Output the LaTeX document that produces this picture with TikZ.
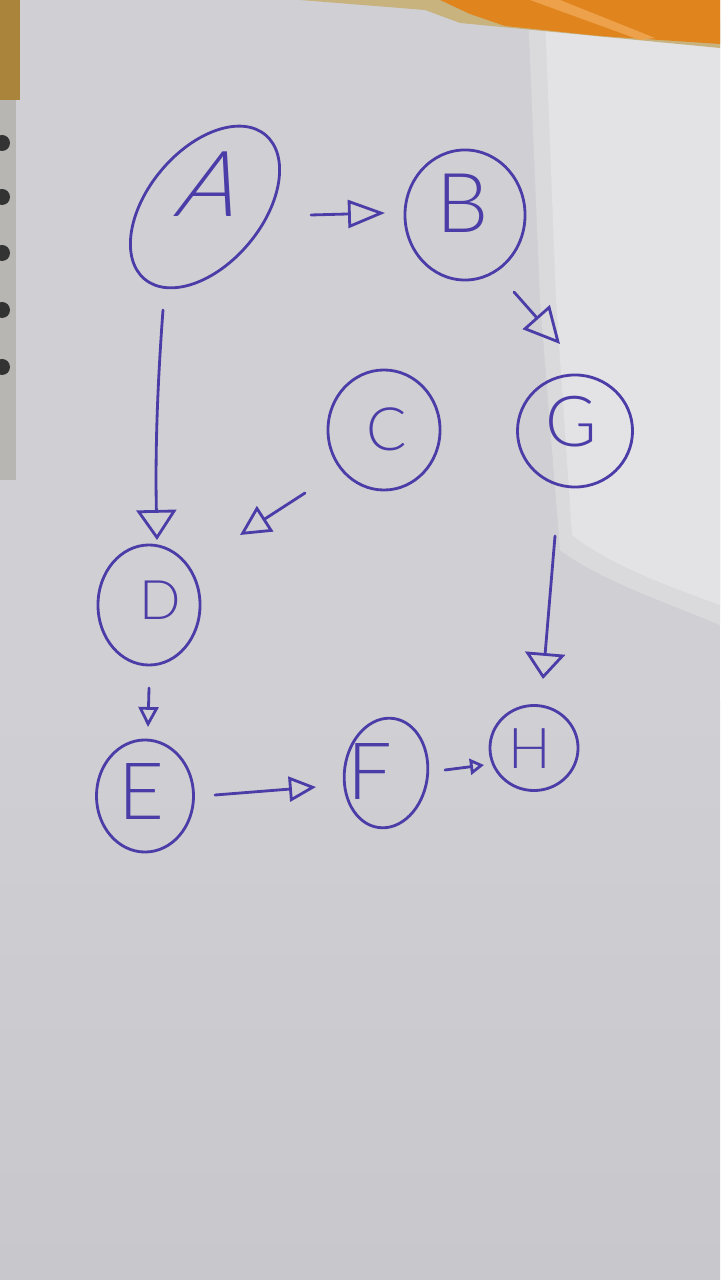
\documentclass[tikz,border=0pt]{standalone}
\usepackage{fontspec}
\newfontfamily\pen{Lato Light}
\usetikzlibrary{shapes.geometric,arrows.meta}
\definecolor{ink}{HTML}{4B3DA8}
\definecolor{paper}{HTML}{D0D0D4}
\definecolor{paperlow}{HTML}{C8C8CC}
\definecolor{glare}{HTML}{E3E3E6}
\definecolor{glaremid}{HTML}{DADADD}
\definecolor{desk}{HTML}{A9843A}
\definecolor{tan}{HTML}{C8B27E}
\definecolor{lid}{HTML}{E0841E}
\definecolor{lidlight}{HTML}{EDA14A}
\definecolor{spine}{HTML}{B7B6B2}
\begin{document}
\begin{tikzpicture}[x=0.01cm,y=-0.01cm,
  ring/.style={draw=ink, line width=0.8pt, ellipse, inner sep=0pt},
  letter/.style={text=ink, inner sep=0pt, font=\pen\fontsize{#1}{#1}\selectfont},
  link/.style={draw=ink, line width=0.8pt, line cap=round},
  arrowhd/.style 2 args={-{Triangle[open,length=#1,width=#2]}}
]
\useasboundingbox (0,0) rectangle (720,1280);

% paper sheet and lighting
\fill[paper] (0,0) rectangle (720,1280);
\shade[top color=paper, bottom color=paperlow] (0,700) rectangle (720,1280);
\fill[glaremid] (528,10) -- (720,20) -- (720,625)
  .. controls (660,600) and (600,580) .. (560,550) -- (540,300) -- cycle;
\fill[glare] (545,15) -- (720,25) -- (720,605)
  .. controls (665,585) and (610,565) .. (572,535) -- (556,300) -- cycle;

% desk and box behind the sheet
\fill[desk] (0,0) rectangle (20,100);
\fill[tan] (300,0) -- (720,0) -- (720,48) -- (460,23) -- (425,10) -- cycle;
\fill[lid] (440,0) -- (720,0) -- (720,44) -- (600,36) -- (505,26) -- (470,14) -- cycle;
\fill[lidlight] (530,0) -- (560,0) -- (655,38) -- (640,40) -- cycle;

% notebook spine with rings
\fill[spine] (0,100) rectangle (16,480);
\foreach \yy in {143,197,253,310,367} \fill[black!80] (2,\yy) circle (8);

% nodes
\node[ring, rotate=50, minimum width=1.88cm, minimum height=1.14cm] (A) at (205,207) {};
\node[ring, minimum width=1.20cm, minimum height=1.30cm] (B) at (465,215) {};
\node[ring, minimum width=1.12cm, minimum height=1.20cm] (C) at (384,430) {};
\node[ring, minimum width=1.15cm, minimum height=1.12cm] (G) at (575,431) {};
\node[ring, minimum width=1.02cm, minimum height=1.20cm] (D) at (149,605) {};
\node[ring, minimum width=0.97cm, minimum height=1.12cm] (E) at (145,796) {};
\node[ring, rotate=-8, minimum width=0.83cm, minimum height=1.10cm] (F) at (386,773) {};
\node[ring, minimum width=0.88cm, minimum height=0.85cm] (H) at (534,748) {};

% letters
\node[letter=26, xslant=0.35, transform shape] (Alab) at (214,184) {A};
\node[letter=23.5] (Blab) at (463,203) {B};
\node[letter=17] (Clab) at (387,429) {C};
\node[letter=20] (Glab) at (571,422) {G};
\node[letter=15.5] (Dlab) at (160,600) {D};
\node[letter=22.5] (Elab) at (141,792) {E};
\node[letter=22.5] (Flab) at (370,772) {F};
\node[letter=16] (Hlab) at (530,749) {H};

% connectors
\draw[link, arrowhd={0.37cm}{0.28cm}] ([shift={(106,8)}]A.center) -- ([shift={(-80,-2)}]B.center);
\draw[link, arrowhd={0.30cm}{0.40cm}] ([shift={(-42,103)}]A.center) .. controls ([shift={(-47,170)}]A.center) and ([shift={(6,-160)}]D.center) .. ([shift={(8,-65)}]D.center);
\draw[link, arrowhd={0.36cm}{0.36cm}] ([shift={(49,77)}]B.center) -- ([shift={(-15,-87)}]G.center);
\draw[link, arrowhd={0.30cm}{0.30cm}] ([shift={(-79,63)}]C.center) -- ([shift={(91,-70)}]D.center);
\draw[link, arrowhd={0.26cm}{0.40cm}] ([shift={(-20,105)}]G.center) -- ([shift={(9,-69)}]H.center);
\draw[link, arrowhd={0.20cm}{0.20cm}] ([shift={(0,83)}]D.center) -- ([shift={(3,-69)}]E.center);
\draw[link, arrowhd={0.27cm}{0.25cm}] ([shift={(70,-1)}]E.center) -- ([shift={(-70,14)}]F.center);
\draw[link, arrowhd={0.14cm}{0.16cm}] ([shift={(59,-3)}]F.center) -- ([shift={(-50,17)}]H.center);
\end{tikzpicture}
\end{document}
